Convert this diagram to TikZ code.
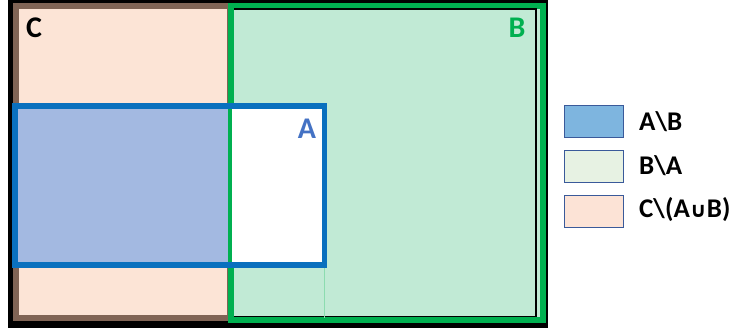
\documentclass[tikz,border=0pt]{standalone}
\usepackage{fontspec}
\setmainfont{Carlito}
\newfontfamily\symfont{DejaVu Sans}
\usepackage{tikz}
\usetikzlibrary{positioning}
\definecolor{cpeach}{HTML}{FCE4D6}
\definecolor{cbrown}{HTML}{806455}
\definecolor{bfill}{HTML}{C1EAD5}
\definecolor{bgreen}{HTML}{00B050}
\definecolor{afill}{HTML}{A3B9E1}
\definecolor{ablue}{HTML}{0A70BE}
\definecolor{alabel}{HTML}{4472C4}
\definecolor{legblue}{HTML}{7EB5DF}
\definecolor{leggreen}{HTML}{E7F2E3}
\definecolor{legpeach}{HTML}{FCE3D6}
\definecolor{legline}{HTML}{3A5A9A}

\begin{document}
\begin{tikzpicture}[x=1pt, y=-1pt,
    setlabel/.style={font=\fontsize{30}{32}\selectfont\bfseries, inner sep=0pt},
    legbox/.style={draw=legline, line width=1pt, minimum width=59pt,
                   minimum height=32pt, inner sep=0pt},
    legtext/.style={font=\fontsize{27}{29}\selectfont\bfseries, inner sep=0pt,
                    anchor=west}]
  \useasboundingbox (0,0) rectangle (741,333);
  % set C
  \fill[black] (8,0) rectangle (548,328);
  \draw[cbrown, fill=cpeach, line width=6pt] (16,6) rectangle (230,318);
  % set B
  \draw[bgreen, fill=bfill, line width=6pt] (231,6) rectangle (543,320);
  \draw[black, line width=1.5pt] (234,9) -- (536,9) -- (536,316.5) -- (234,316.5);
  % set A
  \fill[afill] (12,103) rectangle (230,267);
  \fill[white] (230,103) rectangle (325,267);
  \draw[bgreen, line width=4pt] (230,108) -- (230,263);
  \draw[ablue, line width=5.5pt] (15,106) rectangle (324.5,265);
  \draw[bgreen!45, line width=0.6pt] (324.5,268) -- (324.5,318);
  % labels
  \node[setlabel, text=black] (labC) at (34,28) {C};
  \node[setlabel, text=bgreen] (labB) at (517,28) {B};
  \node[setlabel, text=alabel] (labA) at (307,129) {A};
  % legend
  \node[legbox, fill=legblue] (keyAB) at (594,121.5) {};
  \node[legbox, fill=leggreen, below=12pt of keyAB] (keyBA) {};
  \node[legbox, fill=legpeach, below=12pt of keyBA] (keyC) {};
  \node[legtext] (txtAB) at (639,121.5) {A\textbackslash B};
  \node[legtext] (txtBA) at (639,165.5) {B\textbackslash A};
  \node[legtext] (txtC) at (639,210) {C\textbackslash(A{\symfont\fontsize{21}{23}\selectfont\bfseries ∪}B)};
\end{tikzpicture}
\end{document}
